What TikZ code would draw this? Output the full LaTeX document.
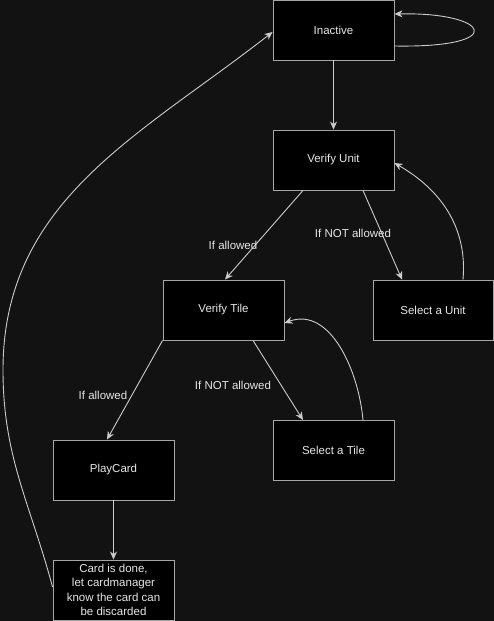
\documentclass[tikz,border=0pt]{standalone}
\usepackage{fontspec}
\setmainfont{Liberation Sans}
\usetikzlibrary{arrows.meta}
\definecolor{bgc}{HTML}{121212}
\definecolor{boxline}{HTML}{A6A6A6}
\definecolor{edgec}{HTML}{CCCCCC}
\definecolor{txtc}{HTML}{E6E6E6}
\begin{document}
\begin{tikzpicture}[x=1pt,y=-1pt,
  statebox/.style={draw=boxline, fill=black, line width=0.9pt, minimum width=121pt, minimum height=60pt, inner sep=1pt, text=txtc, font=\fontsize{11.5}{14.5}\selectfont, align=center},
  conn/.style={draw=edgec, line width=0.9pt, -{Stealth[length=8pt,width=7pt,inset=2.5pt]}},
  lbl/.style={text=txtc, font=\fontsize{11.5}{14}\selectfont, inner sep=0pt}]
\fill[bgc] (0,0) rectangle (494,621);
\useasboundingbox (0,0) rectangle (494,621);
\node[statebox] (ina) at (333.5,30) {Inactive};
\node[statebox] (vu) at (333.5,160) {Verify Unit};
\node[statebox] (vt) at (223.5,310) {Verify Tile};
\node[statebox, minimum width=120pt] (su) at (433,310) {Select a Unit};
\node[statebox] (st) at (333.5,450.5) {Select a Tile};
\node[statebox] (pc) at (113.5,470) {PlayCard};
\node[statebox] (cd) at (113.5,590) {Card is done,\\let cardmanager\\know the card can\\be discarded};
% edges
\draw[conn] ([yshift=-16pt]ina.east) .. controls (510,48) and (490,12) .. ([yshift=16pt]ina.east);
\draw[conn] (ina.south) -- (vu.north);
\draw[conn] ([xshift=-30.5pt]vu.south) -- ([xshift=1.5pt]vt.north);
\draw[conn] ([xshift=29.5pt]vu.south) -- ([xshift=-31pt]su.north);
\draw[conn] ([xshift=30pt]su.north) to[out=85,in=-30] ([yshift=-3pt]vu.east);
\draw[conn] (vt.south west) -- ([xshift=-6.5pt]pc.north);
\draw[conn] ([xshift=29.5pt]vt.south) -- ([xshift=-30.5pt]st.north);
\draw[conn] ([xshift=29.5pt]st.north) to[out=95,in=20] ([yshift=-13pt]vt.east);
\draw[conn] (pc.south) -- (cd.north);
\draw[conn] ([yshift=3pt]cd.west) to[out=105,in=-90] (3,370) to[out=90,in=218] ([yshift=-2pt]ina.west);
% labels
\node[lbl] (l1) at (233,245) {If allowed};
\node[lbl] (l2) at (353,233) {If NOT allowed};
\node[lbl] (l3) at (103,395) {If allowed};
\node[lbl] (l4) at (233,385) {If NOT allowed};
\end{tikzpicture}
\end{document}
